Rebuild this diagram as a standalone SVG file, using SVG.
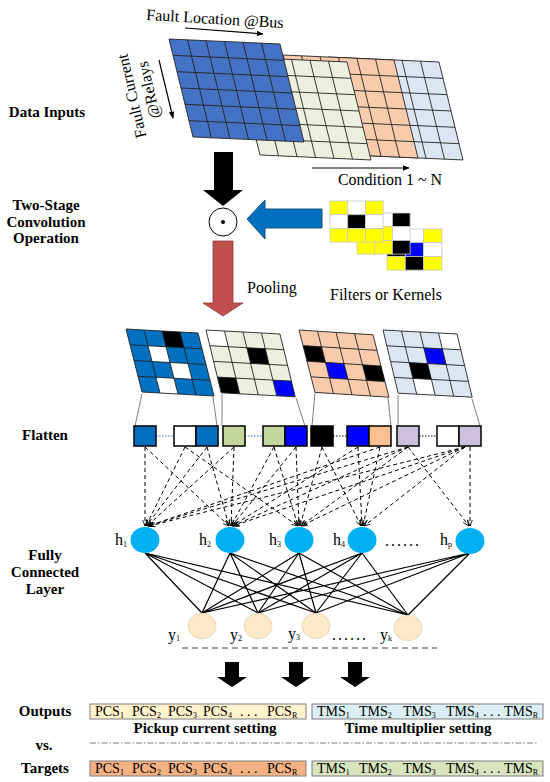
<svg xmlns="http://www.w3.org/2000/svg" width="550" height="782" viewBox="0 0 550 782">
<style>
.lbl{font:bold 15px "Liberation Serif",serif;text-anchor:middle;fill:#000}
.t{font:16px "Liberation Serif",serif;fill:#000}
.bt{font:14px "Liberation Serif",serif;fill:#000}
.sub{font-size:8px}
.gl{fill:none;stroke:#222;stroke-width:0.9;vector-effect:non-scaling-stroke}
.ol{stroke:#222;stroke-width:0.9;vector-effect:non-scaling-stroke}
.fb{stroke:#000;stroke-width:1.5}
.dash{stroke:#000;stroke-width:1;stroke-dasharray:4,3;fill:none;marker-end:url(#oh)}
.solid{stroke:#000;stroke-width:1.2;fill:none}
.gray{stroke:#808080;stroke-width:1;fill:none}
.hn{fill:#00B0F0}
.yn{fill:#FCE9C8;stroke:#E3D2B0;stroke-width:0.8}
.kc{stroke:#c8c8c8;stroke-width:0.8}
</style>
<defs>
<marker id="ah" viewBox="0 0 10 8" refX="9" refY="4" markerWidth="7" markerHeight="6" orient="auto" markerUnits="userSpaceOnUse"><path d="M0,0 L10,4 L0,8 z" fill="#000"/></marker>
<marker id="oh" viewBox="0 0 10 8" refX="9" refY="4" markerWidth="7" markerHeight="6" orient="auto" markerUnits="userSpaceOnUse"><path d="M0,0.5 L9,4 L0,7.5" fill="none" stroke="#000" stroke-width="1.2"/></marker>
<g id="g6">
<rect width="6" height="6" class="ol"/>
<path class="gl" d="M1,0V6M2,0V6M3,0V6M4,0V6M5,0V6M0,1H6M0,2H6M0,3H6M0,4H6M0,5H6"/>
</g>
<path id="g4l" class="gl" d="M0,0H4V4H0ZM1,0V4M2,0V4M3,0V4M0,1H4M0,2H4M0,3H4"/>
</defs>

<!-- left labels -->
<g id="labels">
<text class="lbl" x="47" y="117">Data Inputs</text>
<text class="lbl" x="46" y="210">Two-Stage</text>
<text class="lbl" x="46" y="227">Convolution</text>
<text class="lbl" x="46" y="243">Operation</text>
<text class="lbl" x="45" y="440">Flatten</text>
<text class="lbl" x="45" y="560">Fully</text>
<text class="lbl" x="45" y="577">Connected</text>
<text class="lbl" x="45" y="594">Layer</text>
<text class="lbl" x="45" y="716">Outputs</text>
<text class="lbl" x="44" y="750">vs.</text>
<text class="lbl" x="45" y="773">Targets</text>
</g>

<!-- data input grids -->
<g id="inputs">
<use href="#g6" fill="#DCE6F2" transform="matrix(18.5,0.833,4,16.33,328,57)"/>
<use href="#g6" fill="#F8CBAD" transform="matrix(18.5,0.833,4,16.33,283,55)"/>
<use href="#g6" fill="#EBF1DE" transform="matrix(18.5,0.833,4,16.33,236,57)"/>
<use href="#g6" fill="#4472C4" transform="matrix(18.5,0.833,4,16.33,169,39)"/>
<text class="t" x="215" y="24" text-anchor="middle" transform="rotate(3.4 215 19)">Fault Location @Bus</text>
<line x1="185" y1="28" x2="263" y2="34" stroke="#000" stroke-width="1.2" marker-end="url(#ah)"/>
<text class="t" text-anchor="middle" y="5" transform="translate(132,96) rotate(-103)">Fault Current</text>
<text class="t" text-anchor="middle" y="5" transform="translate(149,90) rotate(-103)">@Relays</text>
<line x1="159" y1="60" x2="173" y2="118" stroke="#000" stroke-width="1.2" marker-end="url(#ah)"/>
<line x1="312" y1="168" x2="409" y2="168" stroke="#000" stroke-width="1.2" marker-end="url(#ah)"/>
<text class="t" x="390" y="185" text-anchor="middle">Condition 1 ~ N</text>
</g>

<!-- convolution -->
<g id="conv">
<polygon points="214,152 233,152 233,190 243,190 223,206 203,190 214,190" fill="#000"/>
<circle cx="223" cy="222" r="14" fill="#fff" stroke="#000" stroke-width="1"/>
<circle cx="223" cy="222" r="2" fill="#000"/>
<polygon points="322,209 322,228 265,228 265,239 247,219 265,200 265,209" fill="#0070C0" stroke="#1F4E79" stroke-width="1"/>
<polygon points="213,241 233,241 233,303 243,303 223,316 203,303 213,303" fill="#C0504D" stroke="#8C3836" stroke-width="0.8"/>
<text class="t" x="247" y="293">Pooling</text>
</g>

<!-- kernels -->
<g id="kernels">
<g class="kc">
<rect x="387" y="229" width="18.3" height="13.7" fill="#fff"/>
<rect x="405.3" y="229" width="18.3" height="13.7" fill="#fff"/>
<rect x="423.6" y="229" width="18.3" height="13.7" fill="#FFFF00"/>
<rect x="387" y="242.7" width="18.3" height="13.7" fill="#000"/>
<rect x="405.3" y="242.7" width="18.3" height="13.7" fill="#0000FF"/>
<rect x="423.6" y="242.7" width="18.3" height="13.7" fill="#fff"/>
<rect x="387" y="256.4" width="18.3" height="13.7" fill="#FFFF00"/>
<rect x="405.3" y="256.4" width="18.3" height="13.7" fill="#000"/>
<rect x="423.6" y="256.4" width="18.3" height="13.7" fill="#FFFF00"/>
</g>
<g class="kc">
<rect x="357" y="213" width="17.7" height="13.7" fill="#FFFF00"/>
<rect x="374.7" y="213" width="17.7" height="13.7" fill="#fff"/>
<rect x="392.4" y="213" width="17.7" height="13.7" fill="#000"/>
<rect x="357" y="226.7" width="17.7" height="13.7" fill="#FFFF00"/>
<rect x="374.7" y="226.7" width="17.7" height="13.7" fill="#FFFF00"/>
<rect x="392.4" y="226.7" width="17.7" height="13.7" fill="#fff"/>
<rect x="357" y="240.4" width="17.7" height="13.7" fill="#FFFF00"/>
<rect x="374.7" y="240.4" width="17.7" height="13.7" fill="#FFFF00"/>
<rect x="392.4" y="240.4" width="17.7" height="13.7" fill="#000"/>
</g>
<g class="kc">
<rect x="330" y="201" width="17.7" height="13.7" fill="#FFFF00"/>
<rect x="347.7" y="201" width="17.7" height="13.7" fill="#fff"/>
<rect x="365.4" y="201" width="17.7" height="13.7" fill="#FFFF00"/>
<rect x="330" y="214.7" width="17.7" height="13.7" fill="#fff"/>
<rect x="347.7" y="214.7" width="17.7" height="13.7" fill="#000"/>
<rect x="365.4" y="214.7" width="17.7" height="13.7" fill="#fff"/>
<rect x="330" y="228.4" width="17.7" height="13.7" fill="#FFFF00"/>
<rect x="347.7" y="228.4" width="17.7" height="13.7" fill="#FFFF00"/>
<rect x="365.4" y="228.4" width="17.7" height="13.7" fill="#FFFF00"/>
</g>
<text class="t" x="386" y="300" text-anchor="middle">Filters or Kernels</text>
</g>

<!-- pooled maps -->
<g id="pool-blue" transform="matrix(18,1,4,15.75,126,329)">
<rect width="4" height="4" fill="#0070C0"/>
<rect x="2" y="0" width="1" height="1" fill="#000"/>
<rect x="1" y="1" width="1" height="1" fill="#fff"/>
<rect x="2" y="2" width="1" height="1" fill="#fff"/>
<rect x="1" y="3" width="1" height="1" fill="#fff"/>
<use href="#g4l"/>
</g>
<g id="pool-green" transform="matrix(18.5,1,3.8,15.7,206,330)">
<rect width="4" height="4" fill="#EBF1DE"/>
<rect x="0" y="0" width="1" height="1" fill="#fff"/>
<rect x="2" y="1" width="1" height="1" fill="#000"/>
<rect x="0" y="3" width="1" height="1" fill="#000"/>
<rect x="3" y="3" width="1" height="1" fill="#0000FF"/>
<use href="#g4l"/>
</g>
<g id="pool-orange" transform="matrix(18.5,1.2,4,15.6,299,330)">
<rect width="4" height="4" fill="#F8CBAD"/>
<rect x="0" y="1" width="1" height="1" fill="#000"/>
<rect x="1" y="2" width="1" height="1" fill="#0000FF"/>
<rect x="3" y="2" width="1" height="1" fill="#000"/>
<use href="#g4l"/>
</g>
<g id="pool-lavender" transform="matrix(18.5,1,3.8,15.8,383,330)">
<rect width="4" height="4" fill="#DCE6F2"/>
<rect x="3" y="0" width="1" height="1" fill="#fff"/>
<rect x="2" y="1" width="1" height="1" fill="#0000FF"/>
<rect x="1" y="2" width="1" height="1" fill="#000"/>
<rect x="1" y="3" width="1" height="1" fill="#fff"/>
<use href="#g4l"/>
</g>
<g id="pool-links">
<path class="gray" d="M142,394L135,426M213,397L217,426M222,394L222,426M296,398L305,426M315,393L312,426M388,398L391,426M398,395L398,426M472,399L480,426"/>
</g>

<!-- flatten -->
<g id="flatten">
<path d="M156,436H174M245,436H263" stroke="#4472C4" stroke-width="1.2" stroke-dasharray="1.5,1.5"/>
<path d="M333,436H347M419,436H437" stroke="#000" stroke-width="1.2" stroke-dasharray="1.5,1.5"/>
<rect class="fb" x="134" y="426" width="22" height="20" fill="#0070C0"/>
<rect class="fb" x="174" y="426" width="22" height="20" fill="#fff"/>
<rect class="fb" x="196" y="426" width="22" height="20" fill="#0070C0"/>
<rect class="fb" x="223" y="426" width="22" height="20" fill="#C3D69B"/>
<rect class="fb" x="263" y="426" width="22" height="20" fill="#C3D69B"/>
<rect class="fb" x="285" y="426" width="22" height="20" fill="#0000FF"/>
<rect class="fb" x="311" y="426" width="22" height="20" fill="#000"/>
<rect class="fb" x="347" y="426" width="22" height="20" fill="#0000FF"/>
<rect class="fb" x="369" y="426" width="22" height="20" fill="#FAC090"/>
<rect class="fb" x="397" y="426" width="22" height="20" fill="#CCC0DA"/>
<rect class="fb" x="437" y="426" width="22" height="20" fill="#fff"/>
<rect class="fb" x="459" y="426" width="22" height="20" fill="#CCC0DA"/>
</g>

<!-- connectors -->
<g id="connectors">
<path class="dash" d="M145,447L145,526"/>
<path class="dash" d="M145,447L229,526"/>
<path class="dash" d="M185,447L146,526"/>
<path class="dash" d="M185,447L298,526"/>
<path class="dash" d="M207,447L146,526"/>
<path class="dash" d="M207,447L229,526"/>
<path class="dash" d="M234,447L147,526"/>
<path class="dash" d="M234,447L231,526"/>
<path class="dash" d="M274,447L231,526"/>
<path class="dash" d="M274,447L298,526"/>
<path class="dash" d="M296,447L232,526"/>
<path class="dash" d="M296,447L299,526"/>
<path class="dash" d="M322,447L300,526"/>
<path class="dash" d="M322,447L361,526"/>
<path class="dash" d="M358,447L232,526"/>
<path class="dash" d="M358,447L362,526"/>
<path class="dash" d="M380,447L363,526"/>
<path class="dash" d="M380,447L148,526"/>
<path class="dash" d="M408,447L301,526"/>
<path class="dash" d="M408,447L148,526"/>
<path class="dash" d="M408,447L233,526"/>
<path class="dash" d="M408,447L469,526"/>
<path class="dash" d="M465,447L149,526"/>
<path class="dash" d="M465,447L233,526"/>
<path class="dash" d="M465,447L301,526"/>
<path class="dash" d="M465,447L364,526"/>
<path class="dash" d="M470,447L470,526"/>
<path class="solid" d="M145,553L202,613M145,553L258,613M145,553L316,613M145,553L408,615M230,553L202,613M230,553L258,613M230,553L316,613M230,553L408,615M299,553L202,613M299,553L258,613M299,553L316,613M299,553L408,615M362,553L202,613M362,553L258,613M362,553L316,613M362,553L408,615M470,553L202,613M470,553L258,613M470,553L316,613M470,553L408,615"/>
<line x1="182" y1="648" x2="437" y2="648" stroke="#A0A0A0" stroke-width="2" stroke-dasharray="6,4"/>
</g>

<!-- hidden nodes -->
<g id="h1"><ellipse class="hn" cx="145" cy="540" rx="14.5" ry="13"/><text class="t" x="115" y="545">h<tspan class="sub" dy="2">1</tspan></text></g>
<g id="h2"><ellipse class="hn" cx="230" cy="540" rx="14.5" ry="13"/><text class="t" x="199" y="545">h<tspan class="sub" dy="2">2</tspan></text></g>
<g id="h3"><ellipse class="hn" cx="299" cy="540" rx="14.5" ry="13"/><text class="t" x="269" y="545">h<tspan class="sub" dy="2">3</tspan></text></g>
<g id="h4"><ellipse class="hn" cx="362" cy="540" rx="14.5" ry="13"/><text class="t" x="333" y="545">h<tspan class="sub" dy="2">4</tspan></text></g>
<g id="hdots"><text class="t" x="385" y="546" letter-spacing="2">......</text></g>
<g id="hp"><ellipse class="hn" cx="470" cy="541" rx="14.5" ry="13"/><text class="t" x="440" y="545">h<tspan class="sub" dy="2">p</tspan></text></g>

<!-- output nodes -->
<g id="y1"><ellipse class="yn" cx="202" cy="626" rx="14" ry="12.7"/><text class="t" x="168" y="640">y<tspan class="sub" dy="1">1</tspan></text></g>
<g id="y2"><ellipse class="yn" cx="258" cy="626" rx="14" ry="12.7"/><text class="t" x="230" y="640">y<tspan class="sub" dy="1">2</tspan></text></g>
<g id="y3"><ellipse class="yn" cx="316" cy="626" rx="14" ry="12.7"/><text class="t" x="288" y="639">y<tspan class="sub" dy="1">3</tspan></text></g>
<g id="ydots"><text class="t" x="332" y="640" letter-spacing="2">......</text></g>
<g id="yk"><ellipse class="yn" cx="408" cy="628" rx="14" ry="12.7"/><text class="t" x="380" y="640">y<tspan class="sub" dy="1">k</tspan></text></g>

<!-- output arrows -->
<g id="out-arrows" fill="#000">
<polygon points="225,662 239,662 239,677 247,677 232,687 217,677 225,677"/>
<polygon points="289,662 303,662 303,677 311,677 296,687 281,677 289,677"/>
<polygon points="348,662 362,662 362,677 370,677 355,687 340,677 348,677"/>
</g>

<!-- outputs -->
<g id="out-pcs">
<rect x="90" y="704" width="216" height="15" fill="#FFF2CC" stroke="#7F7F7F" stroke-width="1"/>
<text class="bt"><tspan x="95" y="716">PCS</tspan><tspan class="sub" y="718">1</tspan><tspan x="132" y="716">PCS</tspan><tspan class="sub" y="718">2</tspan><tspan x="168" y="716">PCS</tspan><tspan class="sub" y="718">3</tspan><tspan x="203" y="716">PCS</tspan><tspan class="sub" y="718">4</tspan><tspan x="240" y="716">. . .</tspan><tspan x="267" y="716">PCS</tspan><tspan class="sub" y="718">R</tspan></text>
</g>
<g id="out-tms">
<rect x="312" y="704" width="231" height="15" fill="#DAEEF3" stroke="#7F7F7F" stroke-width="1"/>
<text class="bt"><tspan x="317" y="716">TMS</tspan><tspan class="sub" y="718">1</tspan><tspan x="359" y="716">TMS</tspan><tspan class="sub" y="718">2</tspan><tspan x="403" y="716">TMS</tspan><tspan class="sub" y="718">3</tspan><tspan x="446" y="716">TMS</tspan><tspan class="sub" y="718">4</tspan><tspan x="483" y="716">. . .</tspan><tspan x="504" y="716">TMS</tspan><tspan class="sub" y="718">R</tspan></text>
</g>
<text class="lbl" x="205" y="733">Pickup current setting</text>
<text class="lbl" x="418" y="733">Time multiplier setting</text>
<line x1="90" y1="743" x2="537" y2="743" stroke="#808080" stroke-width="1" stroke-dasharray="6,2,1.5,2"/>

<!-- targets -->
<g id="tgt-pcs">
<rect x="90" y="761" width="216" height="15" fill="#F4B183" stroke="#7F7F7F" stroke-width="1"/>
<text class="bt"><tspan x="95" y="773">PCS</tspan><tspan class="sub" y="775">1</tspan><tspan x="132" y="773">PCS</tspan><tspan class="sub" y="775">2</tspan><tspan x="168" y="773">PCS</tspan><tspan class="sub" y="775">3</tspan><tspan x="203" y="773">PCS</tspan><tspan class="sub" y="775">4</tspan><tspan x="240" y="773">. . .</tspan><tspan x="267" y="773">PCS</tspan><tspan class="sub" y="775">R</tspan></text>
</g>
<g id="tgt-tms">
<rect x="312" y="761" width="231" height="15" fill="#D7E4BD" stroke="#7F7F7F" stroke-width="1"/>
<text class="bt"><tspan x="317" y="773">TMS</tspan><tspan class="sub" y="775">1</tspan><tspan x="359" y="773">TMS</tspan><tspan class="sub" y="775">2</tspan><tspan x="403" y="773">TMS</tspan><tspan class="sub" y="775">3</tspan><tspan x="446" y="773">TMS</tspan><tspan class="sub" y="775">4</tspan><tspan x="483" y="773">. . .</tspan><tspan x="504" y="773">TMS</tspan><tspan class="sub" y="775">R</tspan></text>
</g>
</svg>
